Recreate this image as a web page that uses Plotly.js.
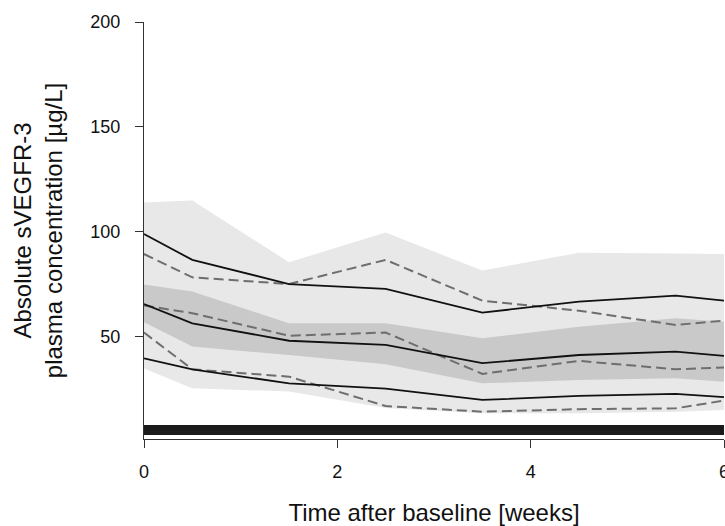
<!DOCTYPE html>
<html>
<head>
<meta charset="utf-8">
<script src="https://cdn.plot.ly/plotly-3.0.1.min.js"></script>
<style>html,body{margin:0;padding:0;background:#fff;} #chart{width:725px;height:526px;}</style>
</head>
<body>
<div id="chart"></div>
<script>
// Time points (weeks after baseline)
var weeks = [0, 0.5, 1.5, 2.5, 3.5, 4.5, 5.5, 6];

// Shaded prediction intervals (µg/L)
var outerTop    = [114, 115, 85.6, 99.7, 81.6, 90.1, 89.8, 89.5];
var outerBottom = [35, 25.6, 24, 16.2, 13.7, 13.7, 14.4, 15.2];
var medianBandHi = [75, 71.6, 56.5, 56.5, 49.4, 54.9, 58.9, 57.3];
var medianBandLo = [57, 45.4, 41.4, 37, 27.9, 29.5, 30.3, 28.7];

// Solid percentile lines
var upperSolid  = [99, 86.7, 75.2, 72.9, 61.6, 66.8, 69.7, 67.3];
var medianSolid = [65.7, 56.5, 48.2, 46.2, 37.5, 41.4, 43, 41];
var lowerSolid  = [39.8, 34.6, 27.9, 25.4, 20, 21.9, 22.9, 21.3];

// Dashed percentile lines
var upperDashed  = [89.5, 78.4, 75.2, 86.7, 67.3, 62.5, 55.7, 57.8];
var medianDashed = [65, 61.3, 50.6, 52.1, 32.4, 38.6, 34.6, 35.5];
var lowerDashed  = [52.1, 34.6, 31.1, 17.1, 14.4, 15.6, 16, 19.7];

// Treatment bar
var barX = [0, 6];
var barLo = [3.3, 3.3];
var barHi = [8.1, 8.1];

var yTicks = [50, 100, 150, 200];
var xTicks = [0, 2, 4, 6];

var LIGHT = '#e8e8e8', DARK = '#c9c9c9';
var noLine = {width: 0};
var traces = [
  {x: weeks, y: outerBottom, mode: 'lines', line: noLine, hoverinfo: 'skip'},
  {x: weeks, y: outerTop, mode: 'lines', line: noLine, fill: 'tonexty', fillcolor: LIGHT, hoverinfo: 'skip'},
  {x: weeks, y: medianBandLo, mode: 'lines', line: noLine, hoverinfo: 'skip'},
  {x: weeks, y: medianBandHi, mode: 'lines', line: noLine, fill: 'tonexty', fillcolor: DARK, hoverinfo: 'skip'}
];
[upperDashed, medianDashed, lowerDashed].forEach(function (s) {
  traces.push({x: weeks, y: s, mode: 'lines', line: {color: '#6e6e6e', width: 2, dash: '10px,5px'}});
});
[upperSolid, medianSolid, lowerSolid].forEach(function (s) {
  traces.push({x: weeks, y: s, mode: 'lines', line: {color: '#111111', width: 1.8}});
});
traces.push({x: barX, y: barLo, mode: 'lines', line: noLine, hoverinfo: 'skip'});
traces.push({x: barX, y: barHi, mode: 'lines', line: noLine, fill: 'tonexty', fillcolor: '#1b1b1b', hoverinfo: 'skip'});

var fam = 'Liberation Sans, Arial, sans-serif';
var font = {family: fam, color: '#111', size: 18};
var layout = {
  width: 725, height: 526,
  margin: {l: 144, r: 1, t: 22, b: 87},
  paper_bgcolor: '#fff', plot_bgcolor: '#fff',
  showlegend: false,
  font: font,
  xaxis: {
    range: [0, 6], tickvals: xTicks, ticktext: xTicks.map(String),
    showgrid: false, zeroline: false, showline: true, linecolor: '#333', linewidth: 1,
    ticks: 'outside', ticklen: 8, tickcolor: '#333', ticklabelstandoff: 8,
    ticklabeloverflow: 'allow',
    title: {text: 'Time after baseline [weeks]', font: {size: 24, family: fam, color: '#111'}, standoff: 24},
    automargin: false
  },
  yaxis: {
    range: [1.4, 200], tickvals: yTicks, ticktext: yTicks.map(String),
    showgrid: false, zeroline: false, showline: true, linecolor: '#333', linewidth: 1,
    ticks: 'outside', ticklen: 8, tickcolor: '#333', ticklabelstandoff: 11,
    title: {text: 'Absolute sVEGFR-3<br>plasma concentration [µg/L]', font: {size: 24, family: fam, color: '#111'}, standoff: 20},
    automargin: false
  }
};
Plotly.newPlot('chart', traces, layout, {displayModeBar: false, staticPlot: true});
</script>
</body>
</html>
